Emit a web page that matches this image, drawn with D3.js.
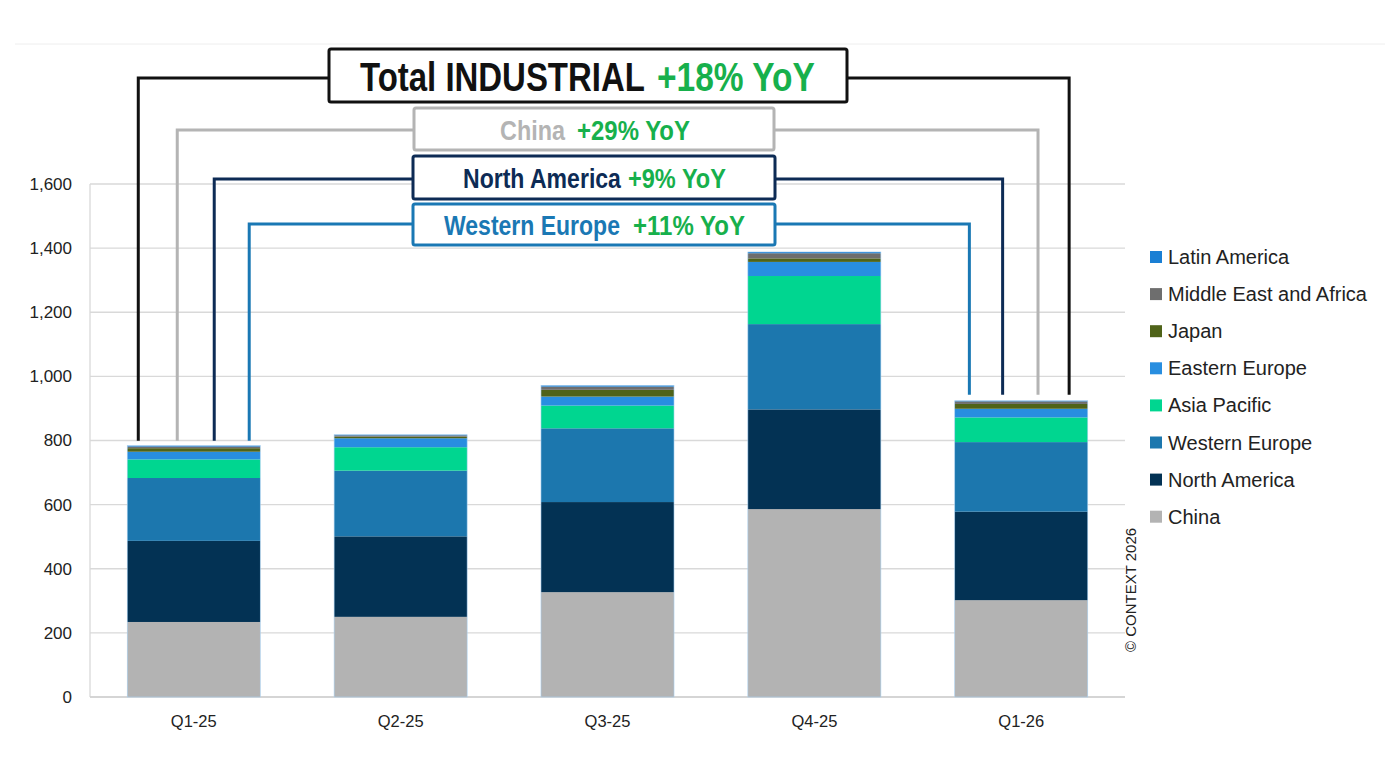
<!DOCTYPE html>
<html>
<head>
<meta charset="utf-8">
<script src="https://cdn.jsdelivr.net/npm/d3@7"></script>
<style>
  body { margin: 0; background: #fff; }
  svg { display: block; font-family: "Liberation Sans", Arial, sans-serif; }
</style>
</head>
<body>
<svg id="chart" width="1400" height="775"></svg>
<script>
// quarters and regional values (stack order bottom -> top)
const quarters = ["Q1-25", "Q2-25", "Q3-25", "Q4-25", "Q1-26"];
const regions = ["China", "North America", "Western Europe", "Asia Pacific",
                 "Eastern Europe", "Japan", "Middle East and Africa", "Latin America"];
const china     = [234, 250, 327, 586, 302];
const northAm   = [253, 251, 281, 311, 276];
const westEu    = [196, 205, 230, 266, 217];
const asiaPac   = [58, 73, 71, 150, 77];
const eastEu    = [24, 28, 28, 44, 27];
const japan     = [11, 5, 21, 11, 15];
const mea       = [5, 4, 10, 16, 8];
const latAm     = [3, 2, 4, 4, 2];
const yTicks = [0, 200, 400, 600, 800, 1000, 1200, 1400, 1600];

// YoY callouts: label, growth text
const callouts = [
  { label: "Total INDUSTRIAL", growth: "+18% YoY" },
  { label: "China", growth: "+29% YoY" },
  { label: "North America", growth: "+9% YoY" },
  { label: "Western Europe", growth: "+11% YoY" }
];

const colors = {
  "China": "#b3b3b3",
  "North America": "#033254",
  "Western Europe": "#1c77ae",
  "Asia Pacific": "#00d690",
  "Eastern Europe": "#288ee0",
  "Japan": "#4f6319",
  "Middle East and Africa": "#6e6e6e",
  "Latin America": "#1a7fd4"
};
const green = "#17b04c";

const series = [china, northAm, westEu, asiaPac, eastEu, japan, mea, latAm];
const rows = quarters.map((q, i) => {
  const r = { quarter: q };
  regions.forEach((reg, j) => r[reg] = series[j][i]);
  return r;
});

const svg = d3.select("#chart");
const margin = { left: 90, right: 275, top: 184, bottom: 78 };
const W = 1400, H = 775;

const x = d3.scaleBand().domain(quarters)
  .range([margin.left, W - margin.right]).paddingInner(0.357).paddingOuter(0.18);
const y = d3.scaleLinear().domain([0, 1600]).range([H - margin.bottom, margin.top]);

// faint rule at the top
svg.append("line").attr("x1", 15).attr("x2", 1385).attr("y1", 44).attr("y2", 44)
  .attr("stroke", "#eeeeee").attr("stroke-width", 1);

// gridlines
svg.append("g").selectAll("line").data(yTicks).join("line")
  .attr("x1", margin.left).attr("x2", W - margin.right)
  .attr("y1", d => y(d)).attr("y2", d => y(d))
  .attr("stroke", "#d9d9d9").attr("stroke-width", 1.3);

// left axis line
svg.append("line").attr("x1", margin.left).attr("x2", margin.left)
  .attr("y1", y(1600)).attr("y2", y(0)).attr("stroke", "#d9d9d9").attr("stroke-width", 1.3);

// y axis labels
const yAxis = d3.axisLeft(y).tickValues(yTicks).tickFormat(d3.format(",")).tickSize(0).tickPadding(18);
const gy = svg.append("g").attr("transform", `translate(${margin.left},0)`).call(yAxis);
gy.select(".domain").remove();
gy.selectAll("text").attr("font-size", 17).attr("fill", "#222")
  .attr("font-family", "'Liberation Sans', Arial, sans-serif");

// x axis labels
const xAxis = d3.axisBottom(x).tickSize(0).tickPadding(18);
const gx = svg.append("g").attr("transform", `translate(0,${y(0)})`).call(xAxis);
gx.select(".domain").attr("stroke", "#d0d0d0").attr("stroke-width", 1.5)
  .attr("d", `M${margin.left},0H${W - margin.right}`);
gx.selectAll("text").attr("font-size", 16.5).attr("fill", "#222")
  .attr("font-family", "'Liberation Sans', Arial, sans-serif");

// stacked bars
const stacked = d3.stack().keys(regions)(rows);
svg.append("g").selectAll("g").data(stacked).join("g")
  .attr("fill", d => colors[d.key])
  .selectAll("rect").data(d => d).join("rect")
  .attr("x", d => x(d.data.quarter))
  .attr("width", x.bandwidth())
  .attr("y", d => y(d[1]))
  .attr("height", d => y(d[0]) - y(d[1]));

// outline of each bar
const totals = rows.map(r => d3.sum(regions, k => r[k]));
svg.append("g").selectAll("rect").data(quarters).join("rect")
  .attr("x", q => x(q)).attr("width", x.bandwidth())
  .attr("y", (q, i) => y(totals[i])).attr("height", (q, i) => y(0) - y(totals[i]))
  .attr("fill", "none").attr("stroke", "#a9d0f0").attr("stroke-width", 0.6);

// callout boxes with connectors from first to last quarter
const first = quarters[0], last = quarters[quarters.length - 1];
const bw = x.bandwidth();
const boxes = [
  { x0: 329, x1: 847, y0: 49, y1: 102, stroke: "#111", labelColor: "#111", size: 40,
    lab: [360, 285], gro: [657, 158], base: 91, lineY: 78, lx: 0.083, rx: 0.86 },
  { x0: 414, x1: 774, y0: 108, y1: 150, stroke: "#b4b4b4", labelColor: "#b4b4b4", size: 27,
    lab: [500, 65], gro: [577, 113], base: 140, lineY: 130, lx: 0.376, rx: 0.626 },
  { x0: 413, x1: 775, y0: 156, y1: 199, stroke: "#0d2b55", labelColor: "#0d2b55", size: 27,
    lab: [463, 158], gro: [628, 98], base: 188, lineY: 179, lx: 0.654, rx: 0.36 },
  { x0: 413, x1: 775, y0: 204, y1: 245, stroke: "#1a78b4", labelColor: "#1a78b4", size: 27,
    lab: [444, 176], gro: [633, 112], base: 235, lineY: 224, lx: 0.917, rx: 0.11 }
];
const leftEnd = y(totals[0]) - 5;
const rightEnd = y(totals[totals.length - 1]) - 6;

// squeeze a text horizontally so it spans the given width
function fitText(sel, x0, base, width) {
  const w = sel.node().getComputedTextLength();
  sel.attr("transform", `translate(${x0},${base}) scale(${width / w},1)`);
}

const ann = svg.append("g");
boxes.forEach((b, i) => {
  const lxp = x(first) + b.lx * bw;
  const rxp = x(last) + b.rx * bw;
  ann.append("path")
    .attr("d", `M${lxp},${leftEnd}V${b.lineY}H${b.x0}M${b.x1},${b.lineY}H${rxp}V${rightEnd}`)
    .attr("fill", "none").attr("stroke", b.stroke).attr("stroke-width", 3);
  ann.append("rect")
    .attr("x", b.x0).attr("y", b.y0).attr("width", b.x1 - b.x0).attr("height", b.y1 - b.y0)
    .attr("rx", 2).attr("fill", "#fff").attr("stroke", b.stroke).attr("stroke-width", 3);
  const t1 = ann.append("text")
    .attr("font-size", b.size).attr("font-weight", "bold").attr("fill", b.labelColor)
    .text(callouts[i].label);
  fitText(t1, b.lab[0], b.base, b.lab[1]);
  const t2 = ann.append("text")
    .attr("font-size", b.size).attr("font-weight", "bold").attr("fill", green)
    .text(callouts[i].growth);
  fitText(t2, b.gro[0], b.base, b.gro[1]);
});

// legend (top to bottom reverse of stack)
const legendItems = regions.slice().reverse();
const lg = svg.append("g").attr("transform", "translate(1150,257)");
const li = lg.selectAll("g").data(legendItems).join("g")
  .attr("transform", (d, i) => `translate(0,${i * 37.1})`);
li.append("rect").attr("x", 0).attr("y", -6).attr("width", 12).attr("height", 12)
  .attr("fill", d => colors[d]);
li.append("text").attr("x", 18).attr("y", 0).attr("dy", "0.35em")
  .attr("font-size", 20).attr("fill", "#222").text(d => d);

// copyright
svg.append("text")
  .attr("transform", "translate(1136,590) rotate(-90)")
  .attr("text-anchor", "middle").attr("font-size", 15).attr("fill", "#222")
  .text("© CONTEXT 2026");
</script>
</body>
</html>
